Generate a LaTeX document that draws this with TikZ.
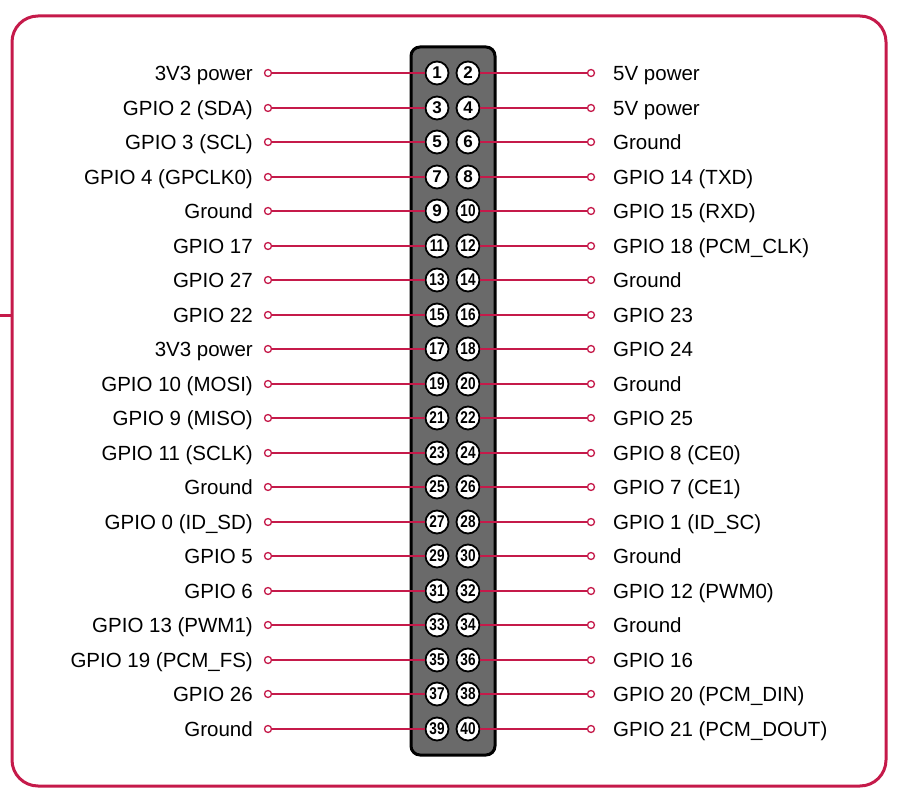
\documentclass[tikz,border=0pt]{standalone}
\usepackage{fontspec}
\usepackage{graphicx}
\setmainfont{Liberation Sans}
\definecolor{rpi}{HTML}{C51A4A}
\definecolor{hdr}{HTML}{6A6A6A}
\newcommand\pinnum[1]{\ifnum#1>9 \scalebox{0.8}[1]{#1}\else #1\fi}
\begin{document}
\begin{tikzpicture}[x=1pt,y=-1pt,
 pin/.style={circle,draw=black,line width=1.8pt,fill=white,minimum size=23pt,inner sep=0pt,font=\fontsize{17}{17}\selectfont\bfseries},
 endpt/.style={circle,draw=rpi,line width=1.3pt,fill=white,minimum size=7pt,inner sep=0pt},
 wire/.style={draw=rpi,line width=1.5pt},
 lbl/.style={font=\fontsize{20.5}{24}\selectfont,inner sep=0pt,text=black}]
\useasboundingbox (0,0) rectangle (897,799);
\draw[rpi,line width=3pt,rounded corners=26pt] (12,16) rectangle (886,786);
\coordinate (s0) at (0,316);
\coordinate (s1) at (12,316);
\draw[rpi,line width=3pt] (s0)--(s1);
\draw[line width=3pt,fill=hdr,rounded corners=9pt] (411,47) rectangle (495,755);
\foreach \n/\t [count=\i from 0] in {1/3V3 power, 3/GPIO 2 (SDA), 5/GPIO 3 (SCL), 7/GPIO 4 (GPCLK0), 9/Ground, 11/GPIO 17, 13/GPIO 27, 15/GPIO 22, 17/3V3 power, 19/GPIO 10 (MOSI), 21/GPIO 9 (MISO), 23/GPIO 11 (SCLK), 25/Ground, 27/GPIO 0 (ID\_SD), 29/GPIO 5, 31/GPIO 6, 33/GPIO 13 (PWM1), 35/GPIO 19 (PCM\_FS), 37/GPIO 26, 39/Ground} {
  \pgfmathsetmacro\yy{round(73+\i*34.5)}
  \node[pin] (p\n) at (437,\yy) {\pinnum{\n}};
  \node[endpt] (e\n) at (268,\yy) {};
  \node[lbl,anchor=base east] (t\n) at (253,\yy+7.5) {\t};
  \draw[wire] (e\n) -- (p\n);
}
\foreach \n/\t [count=\i from 0] in {2/5V power, 4/5V power, 6/Ground, 8/GPIO 14 (TXD), 10/GPIO 15 (RXD), 12/GPIO 18 (PCM\_CLK), 14/Ground, 16/GPIO 23, 18/GPIO 24, 20/Ground, 22/GPIO 25, 24/GPIO 8 (CE0), 26/GPIO 7 (CE1), 28/GPIO 1 (ID\_SC), 30/Ground, 32/GPIO 12 (PWM0), 34/Ground, 36/GPIO 16, 38/GPIO 20 (PCM\_DIN), 40/GPIO 21 (PCM\_DOUT)} {
  \pgfmathsetmacro\yy{round(73+\i*34.5)}
  \node[pin] (p\n) at (468,\yy) {\pinnum{\n}};
  \node[endpt] (e\n) at (591,\yy) {};
  \node[lbl,anchor=base west] (t\n) at (613,\yy+7.5) {\t};
  \draw[wire] (p\n) -- (e\n);
}
\end{tikzpicture}
\end{document}
